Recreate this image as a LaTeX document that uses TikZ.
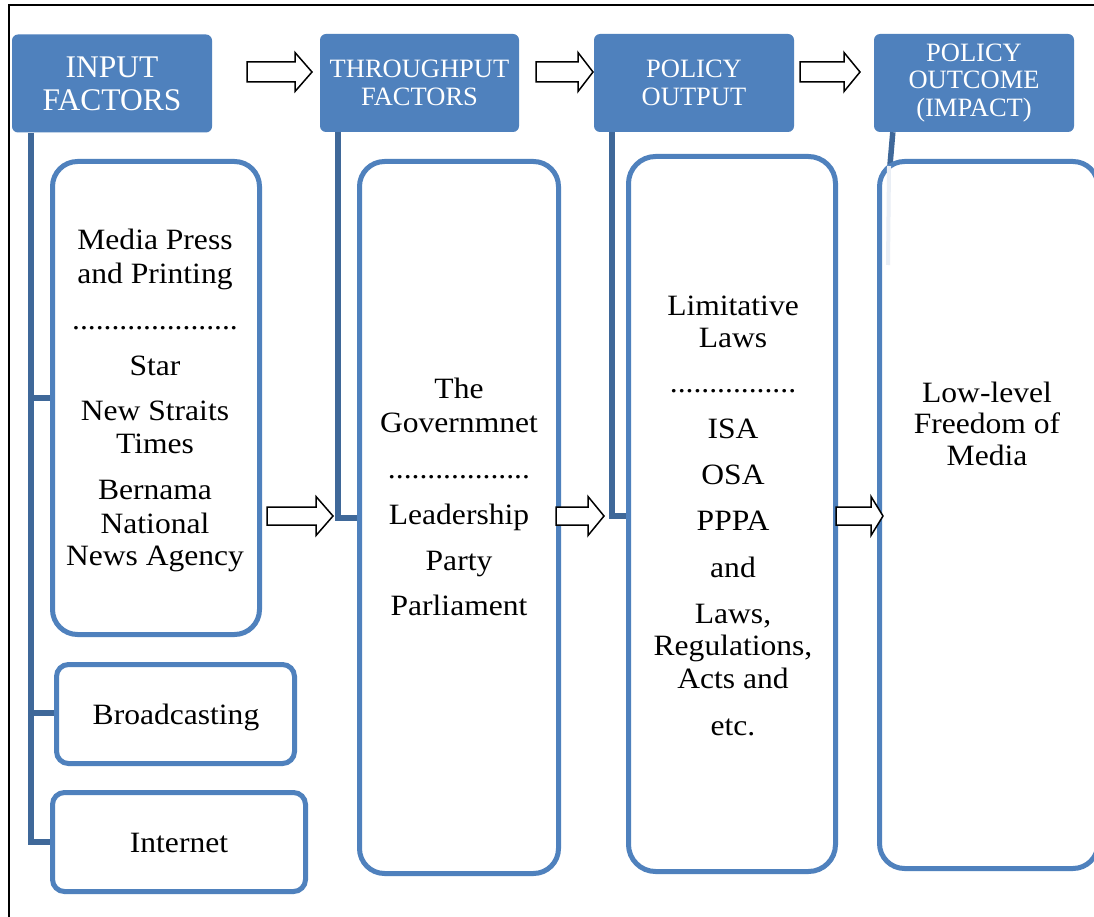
\documentclass[tikz,border=0pt]{standalone}
\usepackage{fontspec}
\setmainfont{Liberation Serif}
\newfontfamily\bodyf[FakeStretch=1.07]{Liberation Serif}
\definecolor{hdrblue}{HTML}{4F81BD}
\definecolor{boxblue}{HTML}{4F81BD}
\definecolor{barblue}{HTML}{3F6899}
\definecolor{faint}{HTML}{E9EEF5}
\tikzset{
  hdr/.style={fill=hdrblue, rounded corners=6pt, text=white, align=center, inner sep=0pt,
              minimum width=200pt, minimum height=98pt},
  hdrbig/.style={font=\fontsize{31.5}{33}\selectfont},
  hdrsmall/.style={font=\fontsize{26.5}{27.5}\selectfont},
  cbox/.style={draw=boxblue, line width=5pt, rounded corners=25pt, fill=white, inner sep=0pt},
  txt/.style={anchor=base, inner sep=0pt, font=\bodyf\fontsize{29.5}{33}\selectfont},
  bar/.style={draw=barblue, line width=5.5pt},
  barrow/.style={draw=black, line width=1.5pt, fill=white, line join=miter},
  frame/.style={draw=black, line width=1.8pt}
}
\newcommand\blockarr[5]{% x1, x2 (head start), x3 (tip), y, half shaft
  \draw[barrow] (#1,#4-#5) -- (#2,#4-#5) -- (#2,#4-19.5) -- (#3,#4) -- (#2,#4+19.5)
    -- (#2,#4+#5) -- (#1,#4+#5) -- cycle;}
\begin{document}
\begin{tikzpicture}[x=1pt,y=-1pt]
\useasboundingbox (0,0) rectangle (1094,917);
\fill[white] (0,0) rectangle (1094,917);
% frame
\draw[frame] (9,920) -- (9,5) -- (1100,5);

% headers
\node[hdr,hdrbig] (inp) at (112,83.5) {INPUT\\FACTORS};
\node[hdr,hdrsmall,minimum width=199pt] (thr) at (419.5,83) {THROUGHPUT\\FACTORS};
\node[hdr,hdrsmall,font=\fontsize{26.5}{28}\selectfont] (out) at (694,83) {POLICY\\OUTPUT};
\node[hdr,hdrsmall] (imp) at (974,83) {POLICY\\OUTCOME\\(IMPACT)};

% bars
\draw[bar] ([xshift=19pt]inp.south west) |- (50,842);
\draw[bar] (31,713) -- (55,713);
\draw[bar] (31,398) -- (50,398);
\draw[bar] ([xshift=18pt]thr.south west) |- (358,518);
\draw[bar] ([xshift=18pt]out.south west) |- (627,516);
\draw[bar] ([xshift=19pt]imp.south west) -- (890,165);

% content boxes
\node[cbox, minimum width=207pt, minimum height=473pt] (media) at (156,398) {};
\node[cbox, rounded corners=12pt, minimum width=238pt, minimum height=99pt] (broad) at (175.5,714) {};
\node[cbox, rounded corners=12pt, minimum width=253pt, minimum height=99pt] (inet) at (179,842) {};
\node[cbox, minimum width=199pt, minimum height=712pt] (thrbox) at (459,517.5) {};
\node[cbox, rounded corners=27pt, minimum width=207pt, minimum height=715pt] (outbox) at (732,514) {};
\node[cbox, minimum width=218.5pt, minimum height=707pt] (impbox) at (988.75,515) {};
\draw[faint, line width=4pt] (889,166) -- (888,265);

% media text
\node[txt] (m1) at (155,250) {Media Press};
\node[txt] (m2) at (155,283) {and Printing};
\node[txt] (m3) at (155,329) {.....................};
\node[txt] (m4) at (155,375) {Star};
\node[txt] (m5) at (155,420) {New Straits};
\node[txt] (m6) at (155,453) {Times};
\node[txt] (m7) at (155,499) {Bernama};
\node[txt] (m8) at (155,533) {National};
\node[txt] (m9) at (155,565) {News Agency};
\node[txt] (b1) at (176,724) {Broadcasting};
\node[txt] (i1) at (179,852) {Internet};

% throughput text
\node[txt] (t1) at (459,398) {The};
\node[txt] (t2) at (459,432) {Governmnet};
\node[txt] (t3) at (459,478) {..................};
\node[txt] (t4) at (459,524) {Leadership};
\node[txt] (t5) at (459,570) {Party};
\node[txt] (t6) at (459,615) {Parliament};

% policy output text
\node[txt] (p1) at (733,315) {Limitative};
\node[txt] (p2) at (733,347) {Laws};
\node[txt] (p3) at (733,392) {................};
\node[txt] (p4) at (733,438) {ISA};
\node[txt] (p5) at (733,484) {OSA};
\node[txt] (p6) at (733,530) {PPPA};
\node[txt] (p7) at (733,577) {and};
\node[txt] (p8) at (733,623) {Laws,};
\node[txt] (p9) at (733,655) {Regulations,};
\node[txt] (p10) at (733,688) {Acts and};
\node[txt] (p11) at (733,735) {etc.};

% outcome text
\node[txt] (o1) at (987,402) {Low-level};
\node[txt] (o2) at (987,433) {Freedom of};
\node[txt] (o3) at (987,465) {Media};

% block arrows
\blockarr{247}{295}{312}{72}{10}
\blockarr{536}{578}{593}{72}{10}
\blockarr{800}{844}{860}{72}{10}
\blockarr{267}{316}{333}{516}{9}
\blockarr{556}{588}{604}{516}{9}
\blockarr{836}{871}{883}{516}{9}
\end{tikzpicture}
\end{document}
